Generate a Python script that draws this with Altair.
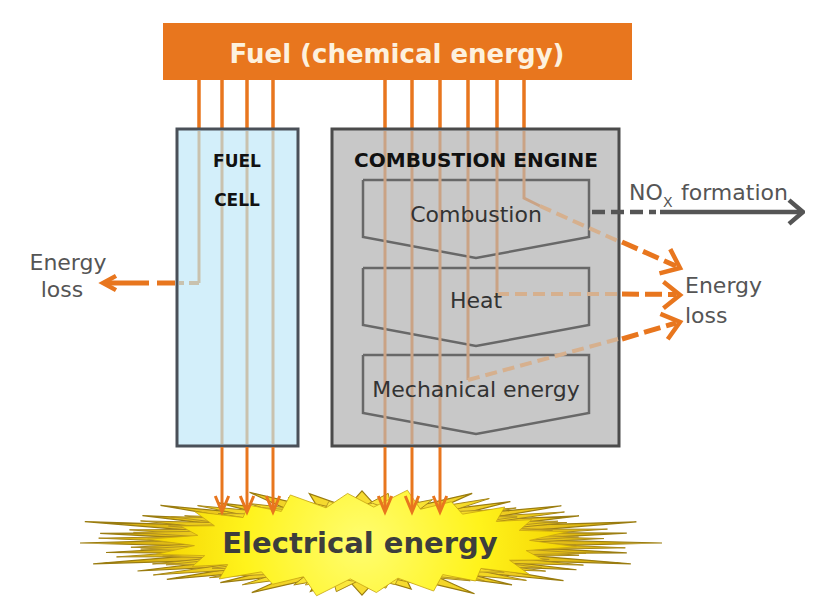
import math
import altair as alt
import pandas as pd

# ---------------- text content ----------------
TITLE = "Fuel (chemical energy)"
FC_WORDS = ["FUEL", "CELL"]
CE_TITLE = "COMBUSTION ENGINE"
STAGES = ["Combustion", "Heat", "Mechanical energy"]
LOSS_WORDS = ["Energy", "loss"]
NOX_WORDS = ["NO", "X", "formation"]
OUTPUT = "Electrical energy"

# ---------------- colours ----------------
ORANGE = "#e8761e"
FC_FILL = "#d3effa"
FC_EDGE = "#4a5058"
CE_FILL = "#c8c8c8"
CE_EDGE = "#4b4b4b"
FC_INNER = "#c9c2ae"
CE_INNER = "#caa385"
CE_DASH = "#d6b08e"
STAGE_EDGE = "#686868"
GREY_TXT = "#555555"
NOX_GREY = "#555555"

# ---------------- layout (image pixel coordinates) ----------------
W, H = 797, 600
BAR = (163, 632, 23, 80)
FC_BOX = (177, 298, 129, 446)
CE_BOX = (332, 619, 129, 446)
FC_X = [199, 222, 247, 273]
CE_X = [385, 412, 440, 468, 497, 524]
STAGE_TOP = [180, 268, 355]
STAGE_SIDE = [237, 325, 413]
STAGE_TIP = [258, 346, 434]
STAGE_L, STAGE_R, STAGE_C = 363, 589, 476
ARROW_TIP_Y = 512

# starburst
CX, CY = 362, 543
SPIKE_A = [1.0, 0.9, 0.97, 0.86, 0.95, 0.9, 0.98, 0.84, 0.93, 0.88, 0.96, 0.85,
           0.92, 0.9, 0.97, 0.87, 0.94, 0.89, 1.0, 0.88, 0.95, 0.86, 0.98, 0.9,
           0.93, 0.85, 0.96, 0.89, 0.94, 0.87, 0.99, 0.9]
SPIKE_C = [1.0, 0.9, 0.97, 0.88, 0.95, 0.92, 1.0, 0.87, 0.94, 0.9, 0.98]

XS = alt.Scale(domain=[8, 8 + W], nice=False, zero=False)
YS = alt.Scale(domain=[8, 8 + H], nice=False, zero=False, reverse=True)


def X():
    return alt.X("x:Q", scale=XS, axis=None)


def Y():
    return alt.Y("y:Q", scale=YS, axis=None)


def rect_layer(box, fill, stroke=None, sw=0):
    df = pd.DataFrame([{"x": box[0], "x2": box[1], "y": box[2], "y2": box[3]}])
    kw = dict(fill=fill)
    if stroke:
        kw.update(stroke=stroke, strokeWidth=sw)
    return alt.Chart(df).mark_rect(**kw).encode(x=X(), x2="x2:Q", y=Y(), y2="y2:Q")


def lines_layer(paths, color, width, dash=None):
    rows = []
    for i, pts in enumerate(paths):
        for k, (x, y) in enumerate(pts):
            rows.append({"id": i, "k": k, "x": x, "y": y})
    kw = dict(color=color, strokeWidth=width, strokeCap="butt", strokeJoin="miter")
    if dash:
        kw["strokeDash"] = dash
    return alt.Chart(pd.DataFrame(rows)).mark_line(**kw).encode(
        x=X(), y=Y(), detail="id:N", order="k:Q")


def text_layer(rows, weight, align):
    df = pd.DataFrame(rows, columns=["text", "x", "y", "size", "color"])
    return alt.Chart(df).mark_text(font="DejaVu Sans", fontWeight=weight, align=align,
                                   baseline="alphabetic").encode(
        x=X(), y=Y(), text="text:N",
        size=alt.Size("size:Q", scale=None),
        color=alt.Color("color:N", scale=None))


def head_layer(tips, shape, size, color, sw):
    df = pd.DataFrame([{"x": x, "y": y, "ang": a} for x, y, a in tips])
    return alt.Chart(df).mark_point(shape=shape, size=size, filled=False, stroke=color,
                                    strokeWidth=sw, opacity=1, strokeJoin="miter",
                                    strokeCap="butt").encode(
        x=X(), y=Y(), angle=alt.Angle("ang:Q", scale=None))


def star(n, offset, factors, rx, ry, rx_in, ry_in, scale=1.0):
    pts = []
    for i in range(n):
        t = 2 * math.pi * i / n + offset
        f = factors[i % len(factors)] * scale
        pts.append([CX + rx * f * math.cos(t), CY + ry * f * math.sin(t)])
        tv = t + math.pi / n
        pts.append([CX + rx_in * math.cos(tv), CY + ry_in * math.sin(tv)])
    pts.append(pts[0])
    return pts


def star_layer(pts, stops, stroke, sw):
    feat = {"type": "Feature", "properties": {},
            "geometry": {"type": "Polygon", "coordinates": [pts]}}
    grad = alt.RadialGradient(
        gradient="radial",
        stops=[alt.GradientStop(offset=o, color=c) for o, c in stops],
        x1=0.5, y1=0.5, r1=0, x2=0.5, y2=0.5, r2=0.5)
    return alt.Chart(alt.Data(values=[feat])).mark_geoshape(
        fill=grad, stroke=stroke, strokeWidth=sw, strokeJoin="miter").project(
        type="identity", scale=1, translate=[-8, -8])


layers = []

# starburst (overlapping star polygons)
layers.append(star_layer(star(32, 0.0, SPIKE_A, 300, 56, 150, 36),
                         [(0, "#fbe43a"), (0.55, "#ecc81c"), (1, "#c89e0a")], "#9a7c10", 1.2))
layers.append(star_layer(star(32, math.pi / 32, SPIKE_A[6:] + SPIKE_A[:6], 300, 56, 150, 36, 0.9),
                         [(0, "#fff04a"), (0.55, "#f2d41e"), (1, "#d4aa0e")], "#a8881a", 1.0))
layers.append(star_layer(star(32, math.pi / 64, SPIKE_A[13:] + SPIKE_A[:13], 280, 52, 150, 36, 0.85),
                         [(0, "#fff450"), (0.55, "#f6da22"), (1, "#dcb412")], "#b09020", 0.9))
layers.append(star_layer(star(22, 0.07, SPIKE_C, 215, 54, 168, 36),
                         [(0, "#fffd70"), (0.55, "#fff31c"), (1, "#f4d200")], "#c8a410", 0.8))

# connectors from fuel bar
layers.append(lines_layer([[(x, 78), (x, 130)] for x in FC_X + CE_X], ORANGE, 3.5))
layers.append(rect_layer(BAR, ORANGE))
layers.append(rect_layer(FC_BOX, FC_FILL, FC_EDGE, 3))
layers.append(rect_layer(CE_BOX, CE_FILL, CE_EDGE, 3))

# inner (faded) lines
fc_inner = [[(FC_X[0], 131), (FC_X[0], 283)]] + [[(x, 131), (x, 444)] for x in FC_X[1:]]
layers.append(lines_layer(fc_inner, FC_INNER, 3))

stage_paths = [[(STAGE_L, t), (STAGE_R, t), (STAGE_R, s), (STAGE_C, p), (STAGE_L, s), (STAGE_L, t)]
               for t, s, p in zip(STAGE_TOP, STAGE_SIDE, STAGE_TIP)]
layers.append(lines_layer(stage_paths, STAGE_EDGE, 2.5))

ce_inner = [[(x, 131), (x, 444)] for x in CE_X[:3]] + [
    [(CE_X[3], 131), (CE_X[3], 380)],
    [(CE_X[4], 131), (CE_X[4], 294)],
    [(CE_X[5], 131), (CE_X[5], 198), (540, 206)],
]
layers.append(lines_layer(ce_inner, CE_INNER, 3))

# dashed losses inside boxes
layers.append(lines_layer([[(FC_X[0], 283), (179, 283)]], FC_INNER, 4, [10, 5]))
layers.append(lines_layer([[(540, 206), (618, 241)], [(497, 294), (618, 294)],
                           [(468, 380), (618, 339)]], CE_DASH, 4, [12, 6]))

# orange losses outside
layers.append(lines_layer([[(175, 283), (157, 283)], [(149, 283), (106, 283)]], ORANGE, 5))
layers.append(lines_layer([[(622, 242), (676, 266)], [(622, 294), (676, 294.5)],
                           [(622, 339), (676, 323)]], ORANGE, 5, [17, 6]))

# NOx arrow
layers.append(lines_layer([[(592, 212), (656, 212)]], NOX_GREY, 4.5, [13, 6]))
layers.append(lines_layer([[(660, 212), (800, 212)]], NOX_GREY, 4.5))

# bottom arrows into the starburst
bottom = [[(x, 447), (x, ARROW_TIP_Y - 2)] for x in FC_X[1:] + CE_X[:3]]
layers.append(lines_layer(bottom, ORANGE, 3))

# arrow heads
layers.append(head_layer([(x, ARROW_TIP_Y, 90) for x in FC_X[1:] + CE_X[:3]],
                         "M -1 -0.42 L 0 0 L -1 0.42", 1024, ORANGE, 3))
layers.append(head_layer([(680, 268, 24), (680, 295, 0), (680, 322, 344)],
                         "M -1 -0.8 L 0 0 L -1 0.8", 1100, ORANGE, 4.5))
layers.append(head_layer([(103, 283, 180)], "M -1 -0.55 L 0 0 L -1 0.55", 676, ORANGE, 4.5))
layers.append(head_layer([(803, 212, 0)], "M -1 -0.85 L 0 0 L -1 0.85", 784, NOX_GREY, 4.5))

# texts
bold_rows = [
    (TITLE, 397, 63, 26, "#fdf1de"),
    (FC_WORDS[0], 237, 167, 17, "#111111"),
    (FC_WORDS[1], 237, 206, 17, "#111111"),
    (CE_TITLE, 476, 167, 20, "#111111"),
    (OUTPUT, 360, 553, 29, "#3d3d3d"),
]
layers.append(text_layer(bold_rows, "bold", "center"))

center_rows = [
    (STAGES[0], 476, 222, 22, "#333333"),
    (STAGES[1], 476, 308, 22, "#333333"),
    (STAGES[2], 476, 397, 22, "#333333"),
    (LOSS_WORDS[0], 68, 270, 22, GREY_TXT),
    (LOSS_WORDS[1], 62, 297, 22, GREY_TXT),
]
layers.append(text_layer(center_rows, "normal", "center"))

left_rows = [
    (LOSS_WORDS[0], 685, 293, 22, GREY_TXT),
    (LOSS_WORDS[1], 685, 323, 22, GREY_TXT),
    (NOX_WORDS[0], 629, 200, 22, GREY_TXT),
    (NOX_WORDS[1], 663, 207, 14, GREY_TXT),
    (NOX_WORDS[2], 681, 200, 22, GREY_TXT),
]
layers.append(text_layer(left_rows, "normal", "left"))

chart = alt.layer(*layers).properties(
    width=W, height=H, padding=0,
    autosize=alt.AutoSizeParams(type="none"),
    background="white",
).configure_view(stroke=None)

chart.save("out.html", embed_options={"renderer": "svg", "actions": False})
